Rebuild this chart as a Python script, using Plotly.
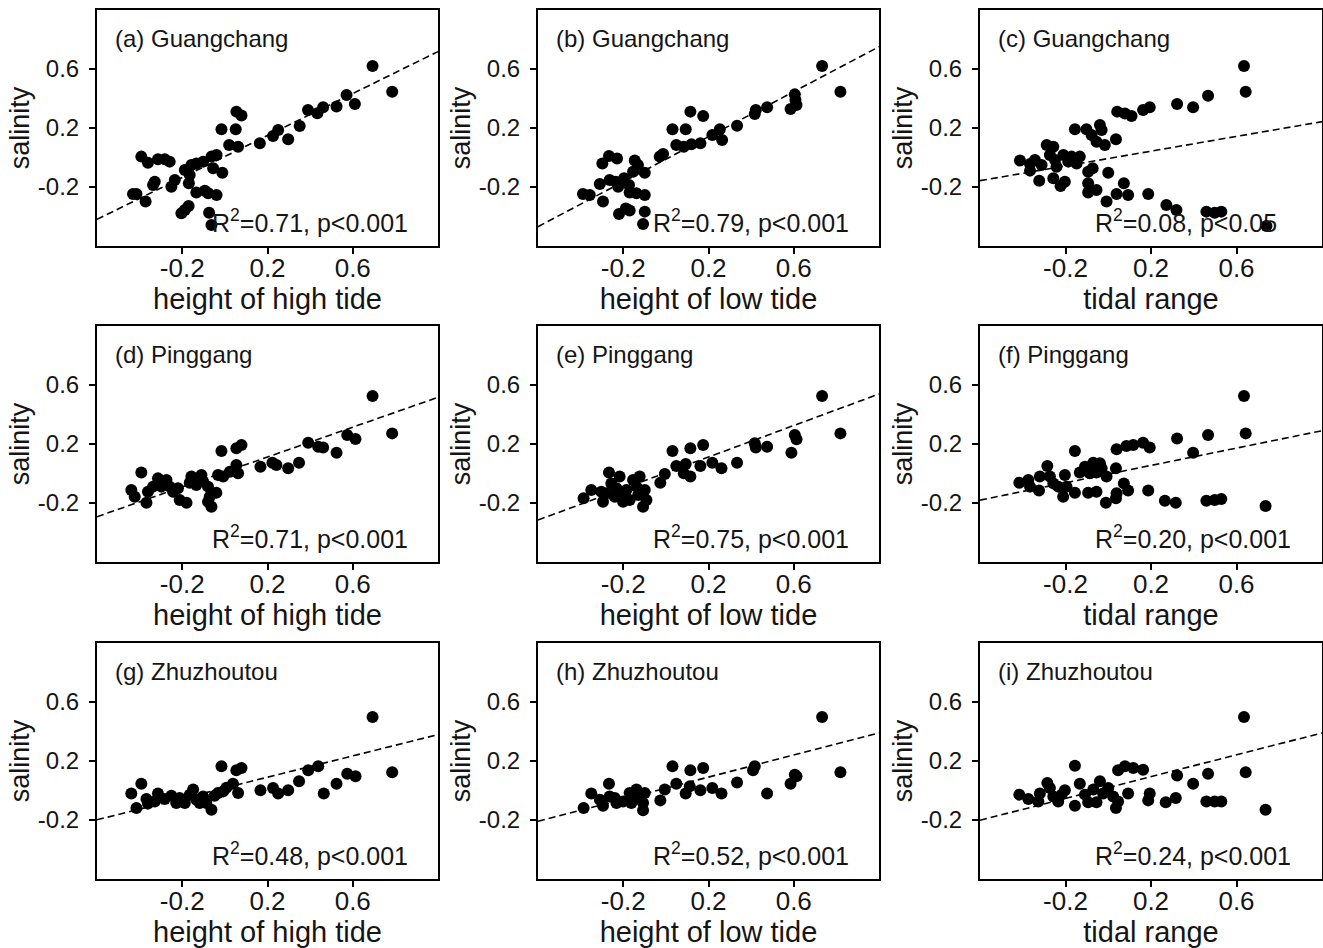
import plotly.graph_objects as go

# ---------------- data ----------------
# (a) Guangchang - height of high tide
a_x = [0.693, 0.785, 0.571, 0.610, 0.524, 0.461, 0.434, 0.390, 0.351, 0.297, 0.250, 0.226, 0.164,
       0.054, 0.078, 0.051, -0.016, 0.020, 0.062, -0.039, -0.063, -0.102, -0.134, -0.157, -0.188,
       -0.055, -0.012, -0.165, -0.169, -0.235, -0.251, -0.329, -0.337, -0.392, -0.361, -0.314,
       -0.282, -0.259, -0.431, -0.415, -0.372, -0.134, -0.094, -0.078, -0.039, -0.204, -0.188,
       -0.170, -0.074, -0.063]
a_y = [0.620, 0.446, 0.424, 0.363, 0.345, 0.340, 0.300, 0.322, 0.214, 0.123, 0.186, 0.146, 0.096,
       0.311, 0.284, 0.191, 0.191, 0.085, 0.073, 0.017, 0.006, -0.028, -0.040, -0.051, -0.085,
       -0.073, -0.103, -0.119, -0.175, -0.153, -0.198, -0.164, -0.186, 0.006, -0.035, -0.012,
       -0.012, -0.028, -0.247, -0.247, -0.299, -0.238, -0.225, -0.243, -0.254, -0.378, -0.356,
       -0.329, -0.374, -0.458]

# (b) Guangchang - height of low tide
b_x = [0.733, 0.819, 0.605, 0.608, 0.613, 0.585, 0.475, 0.422, 0.417, 0.334, 0.253, 0.264, 0.218,
       0.162, 0.115, 0.175, 0.031, 0.093, 0.049, 0.084, 0.120, -0.013, -0.029, -0.267, -0.229,
       -0.298, -0.146, -0.131, -0.154, -0.099, -0.264, -0.235, -0.196, -0.310, -0.224, -0.173,
       -0.170, -0.138, -0.099, -0.389, -0.357, -0.295, -0.220, -0.188, -0.170, -0.099, -0.107]
b_y = [0.620, 0.446, 0.428, 0.390, 0.356, 0.329, 0.340, 0.322, 0.295, 0.216, 0.191, 0.119, 0.153,
       0.096, 0.311, 0.281, 0.191, 0.191, 0.085, 0.073, 0.089, 0.024, 0.006, 0.010, -0.006,
       -0.040, -0.021, -0.051, -0.096, -0.103, -0.153, -0.164, -0.141, -0.180, -0.198, -0.186,
       -0.238, -0.243, -0.254, -0.247, -0.254, -0.299, -0.383, -0.345, -0.360, -0.367, -0.451]

# (c) Guangchang - tidal range
c_x = [0.635, 0.643, 0.467, 0.397, 0.322, 0.194, 0.163, 0.109, 0.078, 0.042, -0.156, -0.102, -0.039,
       -0.031, -0.078, -0.055, -0.016, 0.036, -0.288, -0.257, -0.413, -0.366, -0.343, -0.312,
       -0.366, -0.273, -0.249, -0.210, -0.187, -0.172, -0.133, -0.148, -0.242, -0.073, -0.094,
       0.000, -0.323, -0.257, -0.223, -0.203, -0.094, -0.094, -0.055, 0.039, 0.073, 0.093, 0.187,
       -0.008, 0.272, 0.319, 0.459, 0.498, 0.529, 0.740]
c_y = [0.620, 0.446, 0.419, 0.340, 0.363, 0.340, 0.322, 0.281, 0.299, 0.311, 0.191, 0.191, 0.220,
       0.186, 0.153, 0.107, 0.085, 0.123, 0.085, 0.073, -0.021, -0.044, -0.017, -0.051, -0.089,
       0.017, -0.017, 0.017, -0.028, 0.006, 0.006, -0.040, -0.062, -0.073, -0.096, -0.103, -0.157,
       -0.141, -0.193, -0.164, -0.175, -0.238, -0.220, -0.247, -0.175, -0.254, -0.247, -0.299,
       -0.322, -0.356, -0.367, -0.374, -0.367, -0.464]

# (d) Pinggang - height of high tide
d_x = [0.693, 0.785, 0.574, 0.613, 0.524, 0.438, 0.461, 0.391, 0.348, 0.297, 0.242, 0.223, 0.167,
       0.078, 0.054, -0.016, 0.054, 0.062, 0.023, -0.392, -0.439, -0.423, -0.368, -0.361, -0.314,
       -0.274, -0.259, -0.243, -0.212, -0.180, -0.165, -0.157, -0.134, -0.110, -0.102, -0.079,
       -0.071, -0.063, -0.040, -0.032, -0.008, -0.079, -0.337, -0.298, -0.220]
d_y = [0.525, 0.272, 0.261, 0.234, 0.141, 0.182, 0.177, 0.209, 0.073, 0.035, 0.058, 0.073, 0.046,
       0.193, 0.171, 0.153, 0.058, 0.001, 0.012, 0.006, -0.112, -0.157, -0.198, -0.123, -0.033,
       -0.044, -0.089, -0.123, -0.180, -0.198, -0.062, -0.021, -0.078, -0.010, -0.055, -0.089,
       -0.157, -0.225, -0.130, -0.010, -0.021, -0.191, -0.089, -0.089, -0.100]

# (e) Pinggang - height of low tide
e_x = [0.733, 0.819, 0.605, 0.613, 0.589, 0.475, 0.417, 0.422, 0.334, 0.261, 0.218, 0.162, 0.175,
       0.115, 0.031, 0.049, 0.093, 0.084, 0.115, -0.005, -0.026, -0.267, -0.386, -0.350, -0.295,
       -0.303, -0.256, -0.232, -0.209, -0.201, -0.170, -0.154, -0.138, -0.123, -0.099, -0.091,
       -0.107, -0.217, -0.185, -0.279, -0.240, -0.130]
e_y = [0.525, 0.272, 0.261, 0.232, 0.141, 0.182, 0.205, 0.177, 0.073, 0.035, 0.073, 0.051, 0.193,
       0.171, 0.153, 0.051, 0.064, 0.001, -0.021, -0.003, -0.062, 0.006, -0.168, -0.112, -0.191,
       -0.123, -0.067, -0.100, -0.134, -0.191, -0.180, -0.044, -0.089, -0.021, -0.112, -0.180,
       -0.225, -0.021, -0.112, -0.134, -0.157, -0.146]

# (f) Pinggang - tidal range
f_x = [0.635, 0.643, 0.467, 0.322, 0.397, 0.163, 0.194, 0.117, 0.085, 0.039, -0.156, -0.285, -0.070,
       -0.039, -0.109, -0.133, -0.086, -0.055, -0.031, -0.008, 0.036, -0.416, -0.374, -0.320,
       -0.366, -0.324, -0.273, -0.257, -0.234, -0.203, -0.211, -0.195, -0.156, -0.094, -0.055,
       -0.011, 0.036, 0.039, 0.073, 0.093, 0.187, 0.265, 0.316, 0.459, 0.498, 0.529, 0.736]
f_y = [0.525, 0.272, 0.261, 0.238, 0.141, 0.209, 0.177, 0.193, 0.186, 0.164, 0.153, 0.051, 0.073,
       0.069, 0.046, 0.006, 0.001, 0.006, 0.035, -0.021, 0.035, -0.062, -0.044, -0.021, -0.089,
       -0.116, -0.021, -0.067, -0.089, -0.010, -0.157, -0.089, -0.130, -0.130, -0.123, -0.198,
       -0.168, -0.134, -0.067, -0.116, -0.116, -0.184, -0.198, -0.184, -0.180, -0.173, -0.220]

# (g) Zhuzhoutou - height of high tide
g_x = [0.693, 0.785, 0.574, 0.613, 0.524, 0.464, 0.438, 0.391, 0.348, 0.297, 0.250, 0.226, 0.167,
       0.078, 0.054, -0.016, 0.038, 0.062, -0.392, -0.439, -0.415, -0.361, -0.368, -0.314, -0.282,
       -0.251, -0.228, -0.188, -0.165, -0.149, -0.134, -0.102, -0.087, -0.063, -0.048, -0.032,
       -0.008, 0.007, -0.329, -0.212, -0.118]
g_y = [0.498, 0.123, 0.114, 0.096, 0.046, -0.021, 0.164, 0.137, 0.062, 0.001, -0.021, 0.017, 0.001,
       0.153, 0.137, 0.164, 0.046, -0.017, 0.046, -0.021, -0.119, -0.089, -0.058, -0.021, -0.058,
       -0.035, -0.085, -0.085, -0.028, 0.006, -0.062, -0.040, -0.085, -0.130, -0.035, -0.017,
       -0.006, 0.018, -0.074, -0.051, -0.085]

# (h) Zhuzhoutou - height of low tide
h_x = [0.733, 0.819, 0.605, 0.613, 0.585, 0.475, 0.417, 0.409, 0.334, 0.261, 0.218, 0.162, 0.175,
       0.115, 0.031, 0.049, 0.093, 0.112, -0.005, -0.026, -0.267, -0.386, -0.350, -0.295, -0.310,
       -0.264, -0.232, -0.201, -0.170, -0.162, -0.138, -0.123, -0.107, -0.099, -0.107, -0.240,
       -0.146]
h_y = [0.498, 0.123, 0.107, 0.096, 0.046, -0.021, 0.164, 0.137, 0.055, -0.021, 0.017, 0.001, 0.153,
       0.137, 0.164, 0.046, -0.021, 0.028, 0.006, -0.067, 0.046, -0.119, -0.021, -0.103, -0.062,
       -0.040, -0.085, -0.074, -0.017, -0.085, 0.006, -0.040, -0.085, -0.017, -0.134, -0.051,
       -0.058]

# (i) Zhuzhoutou - tidal range
i_x = [0.635, 0.643, 0.467, 0.322, 0.397, 0.316, 0.269, 0.194, 0.187, 0.163, 0.117, 0.078, 0.046,
       -0.156, -0.285, -0.416, -0.374, -0.320, -0.327, -0.273, -0.257, -0.234, -0.203, -0.218,
       -0.156, -0.133, -0.109, -0.094, -0.070, -0.039, -0.055, -0.024, 0.000, 0.023, 0.036, 0.046,
       0.093, 0.459, 0.498, 0.529, 0.736]
i_y = [0.498, 0.123, 0.114, 0.101, 0.046, -0.051, -0.080, -0.021, -0.067, 0.141, 0.153, 0.164, 0.137,
       0.168, 0.051, -0.028, -0.058, -0.021, -0.074, 0.017, -0.040, -0.074, 0.001, -0.028, -0.103,
       0.046, -0.028, -0.080, 0.006, 0.062, -0.080, -0.021, 0.017, -0.040, -0.119, -0.074, -0.021,
       -0.074, -0.074, -0.074, -0.130]

panel_x = [a_x, b_x, c_x, d_x, e_x, f_x, g_x, h_x, i_x]
panel_y = [a_y, b_y, c_y, d_y, e_y, f_y, g_y, h_y, i_y]

# fitted regression lines (slope, intercept)
fit_slope = [0.711, 0.7625, 0.25, 0.506, 0.534, 0.294, 0.361, 0.374, 0.370]
fit_intercept = [0.007, -0.0115, -0.007, 0.0105, 0.005, -0.004, 0.018, 0.016, 0.020]

panel_labels = ["(a) Guangchang", "(b) Guangchang", "(c) Guangchang",
                "(d) Pinggang", "(e) Pinggang", "(f) Pinggang",
                "(g) Zhuzhoutou", "(h) Zhuzhoutou", "(i) Zhuzhoutou"]
stat_labels = ["R<sup>2</sup>=0.71, p<0.001", "R<sup>2</sup>=0.79, p<0.001", "R<sup>2</sup>=0.08, p<0.05",
               "R<sup>2</sup>=0.71, p<0.001", "R<sup>2</sup>=0.75, p<0.001", "R<sup>2</sup>=0.20, p<0.001",
               "R<sup>2</sup>=0.48, p<0.001", "R<sup>2</sup>=0.52, p<0.001", "R<sup>2</sup>=0.24, p<0.001"]
x_titles = ["height of high tide", "height of low tide", "tidal range"]
y_title = "salinity"
tick_vals = [-0.2, 0.2, 0.6]
tick_text = ["-0.2", "0.2", "0.6"]
axis_range = [-0.6, 1.0]

# ---------------- layout geometry ----------------
W, H = 1323, 948
col_px = [(97, 438), (538, 879), (980, 1322)]
row_px = [(10, 246), (326, 562), (643, 879)]

FONT = "Liberation Sans, Arial, sans-serif"
TXT = "#151515"

fig = go.Figure()
layout_axes = {}
annotations = []

for k in range(9):
    r, c = divmod(k, 3)
    xa = "x" if k == 0 else f"x{k+1}"
    ya = "y" if k == 0 else f"y{k+1}"
    xkey = "xaxis" if k == 0 else f"xaxis{k+1}"
    ykey = "yaxis" if k == 0 else f"yaxis{k+1}"

    fig.add_trace(go.Scatter(
        x=panel_x[k], y=panel_y[k], mode="markers", xaxis=xa, yaxis=ya,
        marker=dict(color="black", size=12, line=dict(width=0)),
        showlegend=False, hoverinfo="x+y"))

    lx = axis_range
    ly = [fit_intercept[k] + fit_slope[k] * v for v in lx]
    fig.add_trace(go.Scatter(
        x=lx, y=ly, mode="lines", xaxis=xa, yaxis=ya,
        line=dict(color="black", width=1.6, dash="7px,4px"),
        showlegend=False, hoverinfo="skip"))

    x0, x1 = col_px[c]
    y0, y1 = row_px[r]
    common = dict(range=axis_range, showgrid=False, zeroline=False,
                  showline=True, linecolor="black", linewidth=2, mirror=True,
                  ticks="outside", ticklen=6, tickwidth=1.5, tickcolor="black",
                  tickvals=tick_vals, ticktext=tick_text)
    layout_axes[xkey] = dict(
        common, domain=[x0 / W, x1 / W], anchor=ya, ticklabelstandoff=-8,
        tickfont=dict(family=FONT, size=26, color=TXT),
        title=dict(text=x_titles[c], font=dict(family=FONT, size=29, color=TXT), standoff=0))
    layout_axes[ykey] = dict(
        common, domain=[1 - y1 / H, 1 - y0 / H], anchor=xa, ticklabelstandoff=5,
        tickfont=dict(family=FONT, size=24, color=TXT),
        title=dict(text=y_title, font=dict(family=FONT, size=27, color=TXT), standoff=0))

    annotations.append(dict(
        text=panel_labels[k], xref=f"{xa} domain", yref=f"{ya} domain",
        x=0.048, y=0.88, xanchor="left", yanchor="middle", showarrow=False,
        font=dict(family=FONT, size=24, color=TXT)))
    annotations.append(dict(
        text=stat_labels[k], xref=f"{xa} domain", yref=f"{ya} domain",
        x=0.331, y=0.105, xanchor="left", yanchor="middle", showarrow=False,
        font=dict(family=FONT, size=25, color=TXT)))

fig.update_layout(
    width=W, height=H, margin=dict(l=0, r=0, t=0, b=0),
    paper_bgcolor="white", plot_bgcolor="white",
    annotations=annotations, **layout_axes)

fig.write_html("out.html")
